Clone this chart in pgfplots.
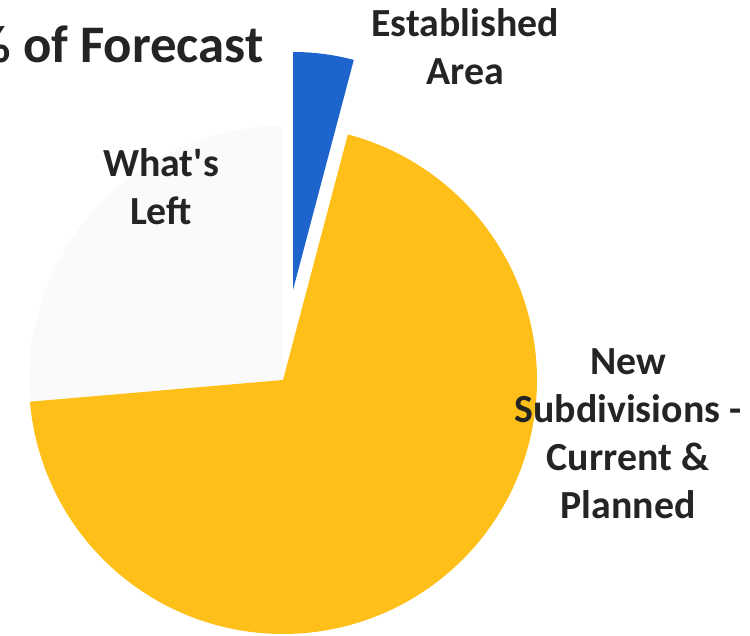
\documentclass[border=0pt]{standalone}
\usepackage{pgfplots}
\pgfplotsset{compat=1.18}
\usepackage{fontspec}
\setmainfont{Carlito}
\definecolor{pieyellow}{RGB}{254,192,24}
\definecolor{pieblue}{RGB}{30,100,205}
\definecolor{piewhite}{RGB}{250,250,251}
\definecolor{txt}{RGB}{36,36,36}
\begin{document}
\begin{tikzpicture}
\path[use as bounding box, clip] (0,0) rectangle (750bp,636bp);
\begin{axis}[
  at={(0,0)}, anchor=south west,
  scale only axis, width=750bp, height=636bp,
  xmin=-283, xmax=467, ymin=-256, ymax=380,
  hide axis, clip=true,
]
% slices: angles in degrees (counter-clockwise from +x), radius in px
% Established Area: 4.1%, New Subdivisions: 69.5%, What's Left: 26.4%
\addplot[fill=piewhite, draw=none, domain=90:184.9, samples=60, data cs=polar] ({x},{254}) -- (axis cs:0,0) -- cycle;
\addplot[fill=pieyellow, draw=none, domain=-175.1:75.2, samples=150, data cs=polar] ({x},{254}) -- (axis cs:0,0) -- cycle;
\addplot[fill=pieblue, draw=none, xshift=10bp, yshift=90bp, domain=75.2:90, samples=20, data cs=polar] ({x},{238}) -- (axis cs:0,0) -- cycle;

\begin{scope}[every node/.style={text=txt, font=\bfseries\fontsize{40}{44}\selectfont}]
\node[anchor=base east, font=\bfseries\fontsize{53}{60}\selectfont] at (axis cs:-16,317) {\% of Forecast};
\node[anchor=base] at (axis cs:182,343) {Established};
\node[anchor=base] at (axis cs:182,295) {Area};
\node[anchor=base] at (axis cs:-122,203) {What\textquotesingle s};
\node[anchor=base] at (axis cs:-122,155) {Left};
\node[anchor=base] at (axis cs:345,5) {New};
\node[anchor=base] at (axis cs:345,-43) {Subdivisions -};
\node[anchor=base] at (axis cs:345,-91) {Current \&};
\node[anchor=base] at (axis cs:345,-139) {Planned};
\end{scope}
\end{axis}
\end{tikzpicture}
\end{document}
